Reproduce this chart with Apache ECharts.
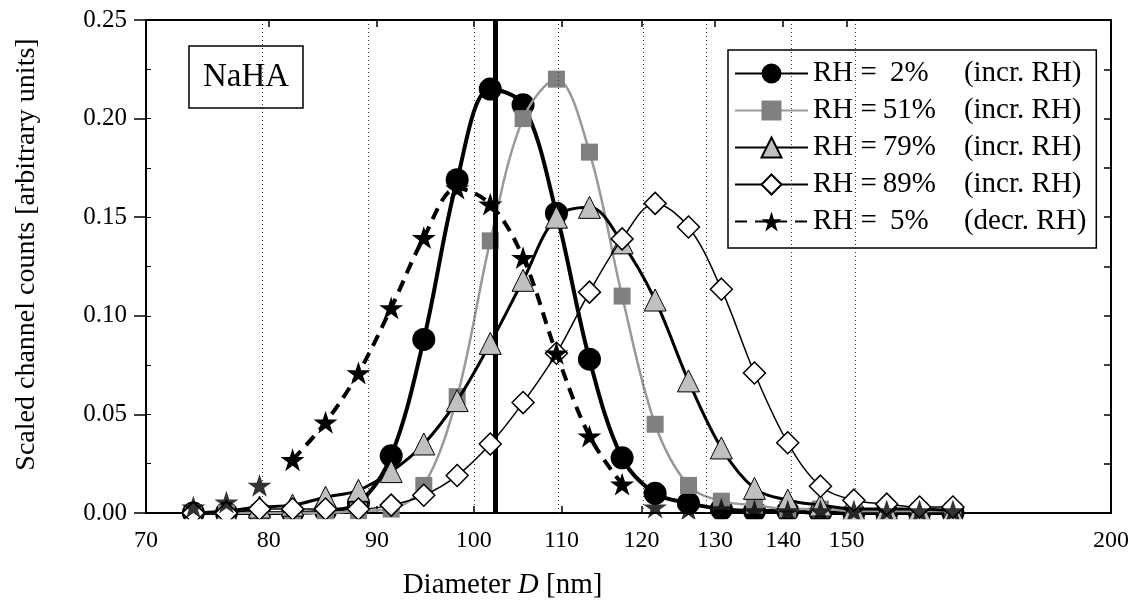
<!DOCTYPE html>
<html><head><meta charset="utf-8">
<script src="https://cdn.jsdelivr.net/npm/echarts@6/dist/echarts.min.js"></script>
<style>html,body{margin:0;padding:0;background:#fff}#c{width:1134px;height:605px}</style>
</head><body><div id="c"></div>
<script>
// ---- data (diameter channels in nm, scaled channel counts) ----
const diameters = [73.7, 76.4, 79.2, 82.1, 85.1, 88.2, 91.4, 94.7, 98.2, 101.8, 105.5, 109.4, 113.4, 117.5, 121.8, 126.3, 130.9, 135.7, 140.7, 145.8, 151.2, 156.7, 162.4, 168.4];
const rh2  = [0.000, 0.000, 0.000, 0.000, 0.001, 0.005, 0.029, 0.088, 0.169, 0.215, 0.207, 0.152, 0.078, 0.028, 0.010, 0.005, 0.002, 0.001, 0.001, 0.000, 0.000, 0.000, 0.000, 0.000];
const rh51 = [0.000, 0.000, 0.000, 0.000, 0.000, 0.001, 0.002, 0.014, 0.059, 0.138, 0.200, 0.220, 0.183, 0.110, 0.045, 0.014, 0.006, 0.004, 0.002, 0.002, 0.001, 0.001, 0.001, 0.001];
const rh79 = [0.000, 0.001, 0.003, 0.004, 0.008, 0.0115, 0.021, 0.035, 0.057, 0.086, 0.118, 0.150, 0.155, 0.137, 0.108, 0.067, 0.033, 0.0125, 0.0065, 0.004, 0.002, 0.002, 0.002, 0.001];
const rh89 = [0.000, 0.000, 0.002, 0.002, 0.002, 0.002, 0.004, 0.009, 0.019, 0.035, 0.056, 0.081, 0.112, 0.139, 0.157, 0.145, 0.1135, 0.071, 0.0356, 0.0136, 0.0065, 0.0045, 0.003, 0.003];
const rh5  = [0.003, 0.0055, 0.014, 0.027, 0.046, 0.071, 0.104, 0.1396, 0.1647, 0.1566, 0.1295, 0.081, 0.039, 0.0146, 0.003, 0.002, 0.002, 0.001, 0.001, 0.001, 0.001, 0.001, 0.001, 0.001];
const rh5DashedRange = [3, 13]; // channel indices spanned by the dashed curve
const seriesNames = ['RH = 2% (incr. RH)', 'RH = 51% (incr. RH)', 'RH = 79% (incr. RH)', 'RH = 89% (incr. RH)', 'RH = 5% (decr. RH)'];
const xTickLabels = [70, 80, 90, 100, 110, 120, 130, 140, 150, 200];
const gridDiameters = [80, 90, 100, 110, 120, 130, 140, 150];
const referenceDiameter = 103.2;
const xMin = 70, xMax = 200;
const yMin = 0, yMax = 0.25, yStep = 0.05;
const panelLabel = 'NaHA';
const xTitle = 'Diameter {it|D} [nm]';
const yTitle = 'Scaled channel counts [arbitrary units]';

// ---- helpers ----
const FONT = '"Liberation Serif", "Times New Roman", serif';
const lg = Math.log10;
const pts = arr => diameters.map((d, i) => [lg(d), arr[i]]);
const STAR = 'path://M50,0L61.23,34.55L97.55,34.55L68.16,55.9L79.39,90.45L50,69.1L20.61,90.45L31.84,55.9L2.45,34.55L38.77,34.55Z';

const rh5pts = pts(rh5);
const rh5Dashed = rh5pts.slice(rh5DashedRange[0], rh5DashedRange[1] + 1);
const rh5Tail = rh5pts.filter((p, i) => i < rh5DashedRange[0] || i > rh5DashedRange[1]);

const GRID = {left: 146, right: 23, top: 20, bottom: 87};
const W = 1134, H = 605;

const chart = echarts.init(document.getElementById('c'), null, {renderer: 'canvas'});
const LEG = 29;
const option = {
  animation: false,
  backgroundColor: '#fff',
  title: {
    text: panelLabel, left: 189, top: 46,
    borderColor: '#000', borderWidth: 1.5, padding: [14, 14, 14, 14],
    textStyle: {fontFamily: FONT, fontSize: 33, fontWeight: 'normal', color: '#000', lineHeight: 34}
  },
  grid: Object.assign({containLabel: false}, GRID),
  legend: {
    data: seriesNames,
    orient: 'vertical', left: 728, top: 50,
    padding: [9, 10, 12, 6],
    borderColor: '#000', borderWidth: 1.5,
    backgroundColor: '#fff',
    itemWidth: 73, itemHeight: 25, itemGap: 8,
    selectedMode: false,
    formatter: name => {
      const m = name.match(/^RH = (\d+%) \((.*)\)$/);
      return '{a|RH =}{b|' + m[1] + '}{c|(' + m[2] + ')}';
    },
    textStyle: {
      fontFamily: FONT, fontSize: LEG, color: '#000', lineHeight: 28,
      rich: {
        a: {fontFamily: FONT, fontSize: LEG, lineHeight: 28, color: '#000'},
        b: {fontFamily: FONT, fontSize: LEG, lineHeight: 28, color: '#000', width: 65, align: 'right'},
        c: {fontFamily: FONT, fontSize: LEG, lineHeight: 28, color: '#000', padding: [0, 0, 0, 22]}
      }
    }
  },
  graphic: [{
    // white strip just below the bottom axis line: markers are cut at the frame as in the original
    type: 'rect', silent: true, z: 50,
    shape: {x: GRID.left + 1, y: H - GRID.bottom + 1.2, width: W - GRID.left - GRID.right - 2, height: 11},
    style: {fill: '#fff'}
  }],
  xAxis: [{
    type: 'value', position: 'bottom', min: lg(xMin), max: lg(xMax),
    axisLine: {show: true, onZero: false, lineStyle: {color: '#000', width: 2}},
    axisTick: {show: true, inside: true, length: 7, customValues: gridDiameters.map(lg), lineStyle: {color: '#000', width: 1.5}},
    axisLabel: {customValues: xTickLabels.map(lg), formatter: v => String(Math.round(Math.pow(10, v))),
      fontFamily: FONT, fontSize: 24, color: '#000', margin: 16},
    splitLine: {show: false},
    name: xTitle, nameLocation: 'middle', nameGap: 58,
    nameTextStyle: {fontFamily: FONT, fontSize: 29, color: '#000', padding: [0, 252, 0, 0],
      rich: {it: {fontFamily: FONT, fontSize: 29, fontStyle: 'italic', color: '#000'}}}
  }, {
    type: 'value', position: 'top', min: lg(xMin), max: lg(xMax),
    axisLine: {show: true, onZero: false, lineStyle: {color: '#000', width: 2}},
    axisTick: {show: true, inside: true, length: 7, customValues: gridDiameters.map(lg), lineStyle: {color: '#000', width: 1.5}},
    axisLabel: {show: false}, splitLine: {show: false}
  }],
  yAxis: [{
    type: 'value', position: 'left', min: yMin, max: yMax, interval: yStep,
    axisLine: {show: true, onZero: false, lineStyle: {color: '#000', width: 2}},
    axisTick: {show: true, inside: false, length: 12, lineStyle: {color: '#000', width: 1.5}},
    axisLabel: {formatter: v => v.toFixed(2), fontFamily: FONT, fontSize: 25, color: '#000', margin: 19},
    splitLine: {show: false},
    name: yTitle, nameLocation: 'middle', nameGap: 105,
    nameTextStyle: {fontFamily: FONT, fontSize: 28, color: '#000', padding: [0, 0, 0, 24]}
  }, {
    type: 'value', position: 'left', min: yMin, max: yMax, interval: yStep / 2,
    axisLine: {show: false}, axisTick: {show: true, inside: true, length: 5, lineStyle: {color: '#000', width: 1}},
    axisLabel: {show: false}, splitLine: {show: false}
  }, {
    type: 'value', position: 'right', min: yMin, max: yMax, interval: yStep / 2,
    axisLine: {show: true, onZero: false, lineStyle: {color: '#000', width: 2}},
    axisTick: {show: true, inside: true, length: 7, lineStyle: {color: '#000', width: 1.5}},
    axisLabel: {show: false}, splitLine: {show: false}
  }],
  series: [
    {
      name: 'gridlines', type: 'line', data: [], silent: true, z: 1,
      markLine: {
        silent: true, symbol: ['none', 'none'], label: {show: false}, animation: false,
        data: gridDiameters.map(d => ({xAxis: lg(d), lineStyle: {type: [1, 3], color: '#333', width: 1}}))
          .concat([{xAxis: lg(referenceDiameter), lineStyle: {type: 'solid', color: '#000', width: 5}}])
      }
    },
    {
      name: seriesNames[0], type: 'line', data: pts(rh2), smooth: 0.35, z: 3,
      symbol: 'circle', symbolSize: 23,
      lineStyle: {color: '#000', width: 4},
      itemStyle: {color: '#000', borderColor: '#000', borderWidth: 0}
    },
    {
      name: seriesNames[1], type: 'line', data: pts(rh51), smooth: 0.35, z: 4,
      symbol: 'rect', symbolSize: 17,
      lineStyle: {color: '#999', width: 2.5},
      itemStyle: {color: '#808080', borderColor: '#808080', borderWidth: 0}
    },
    {
      name: seriesNames[2], type: 'line', data: pts(rh79), smooth: 0.35, z: 5,
      symbol: 'triangle', symbolSize: 22,
      lineStyle: {color: '#000', width: 3},
      itemStyle: {color: '#c0c0c0', borderColor: '#000', borderWidth: 1}
    },
    {
      name: seriesNames[3], type: 'line', data: pts(rh89), smooth: 0.35, z: 6,
      symbol: 'diamond', symbolSize: 22,
      lineStyle: {color: '#000', width: 1.5},
      itemStyle: {color: '#fff', borderColor: '#000', borderWidth: 1.5}
    },
    {
      name: seriesNames[4], type: 'line', data: rh5Dashed, smooth: 0.35, z: 7,
      symbol: STAR, symbolSize: 24, symbolKeepAspect: true,
      lineStyle: {color: '#000', width: 4, type: [12, 8]},
      itemStyle: {color: '#000', borderColor: '#000', borderWidth: 0}
    },
    {
      name: 'RH5 tail', type: 'scatter', data: rh5Tail, z: 7,
      symbol: STAR, symbolSize: 24, symbolKeepAspect: true,
      itemStyle: {color: '#000'}
    }
  ]
};
chart.setOption(option);
</script>
</body></html>
